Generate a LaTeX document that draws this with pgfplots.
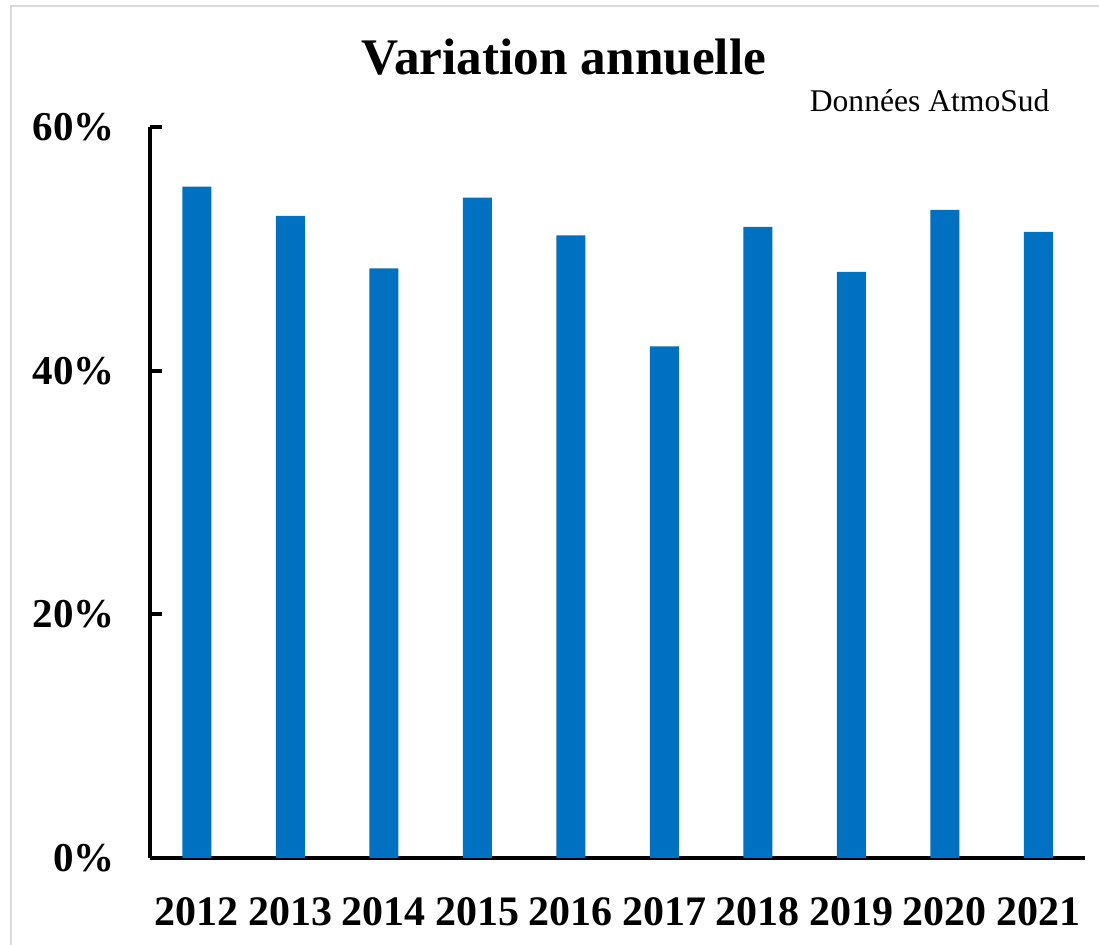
\documentclass[border=0pt]{standalone}
\usepackage{pgfplots}
\pgfplotsset{compat=1.18}
\usepackage{fontspec}
\setmainfont{Liberation Serif}
\definecolor{barblue}{RGB}{0,112,192}
\definecolor{framegray}{RGB}{217,217,217}
\begin{document}
\begin{tikzpicture}[x=1pt,y=1pt]
\useasboundingbox (0,0) rectangle (1099,944);
\draw[framegray, line width=2pt] (11,-5) -- (11,938) -- (1105,938);
\begin{axis}[
 at={(150pt,86pt)}, anchor=south west,
 scale only axis, width=935pt, height=731pt,
 xmin=-0.5, xmax=9.5, ymin=0, ymax=60,
 enlargelimits=false,
 axis x line=bottom, axis y line=left,
 axis line style={-, line width=4pt, black},
 xtick=data, xticklabels={2012,2013,2014,2015,2016,2017,2018,2019,2020,2021},
 xtick style={draw=none},
 ytick={0,20,40,60}, yticklabels={0\%,20\%,40\%,60\%},
 ytick style={line width=4pt, black},
 major tick length=12pt, tick align=inside,
 xticklabel style={font=\fontsize{42}{48}\selectfont\bfseries, inner sep=0pt},
 yticklabel style={font=\fontsize{41}{48}\selectfont\bfseries, inner sep=0pt},
 xticklabel shift=27pt, yticklabel shift=35pt,
 ybar, bar width=29pt,
]
\addplot[fill=barblue, draw=none, bar shift=0pt] coordinates {
 (0,55.1) (1,52.7) (2,48.4) (3,54.2) (4,51.1)
 (5,42.0) (6,51.8) (7,48.1) (8,53.2) (9,51.4)
};
\end{axis}
\node[anchor=base, font=\fontsize{51.3}{60}\selectfont\bfseries] at (564,869) {Variation annuelle};
\node[anchor=base east, font=\fontsize{31.6}{36}\selectfont] at (1053,832) {Données AtmoSud};
\end{tikzpicture}
\end{document}
